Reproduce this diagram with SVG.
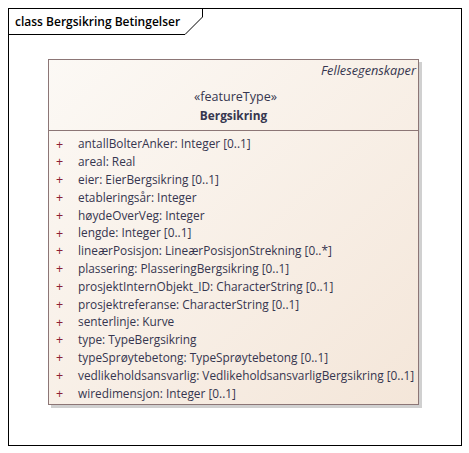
<svg xmlns="http://www.w3.org/2000/svg" width="469" height="453" viewBox="0 0 469 453">
<style>
.t{font-family:"Open Sans","Noto Sans",sans-serif;font-size:11.85px;fill:#36364f}
.p{font-family:"Open Sans","Noto Sans",sans-serif;font-size:12.5px;fill:#8b2036}
.frame{fill:none;stroke:#000;stroke-width:1}
</style>
<defs>
<linearGradient id="g" x1="0" y1="0" x2="1" y2="1">
<stop offset="0" stop-color="#fcf9f5"/>
<stop offset="1" stop-color="#f4e6d9"/>
</linearGradient>
</defs>
<rect x="0" y="0" width="469" height="453" fill="#fff"/>
<g id="frame">
<rect class="frame" x="8.5" y="8.5" width="453" height="437"/>
<path class="frame" d="M8.5,34.5 H185 L202.5,17 V8.5"/>
<text x="15" y="26" style="font-family:'Open Sans','Noto Sans',sans-serif;font-size:12px;font-weight:600;fill:#000">class Bergsikring Betingelser</text>
</g>
<g id="Bergsikring">
<rect x="51" y="62" width="371" height="346" fill="#b0b0b0" opacity="0.6"/>
<rect x="48.5" y="59.5" width="370" height="345" fill="url(#g)" stroke="#8c7676" stroke-width="1"/>
<line x1="48.5" y1="130.5" x2="418.5" y2="130.5" stroke="#8c7676"/>
<text class="t" x="321" y="75" font-style="italic" textLength="95" lengthAdjust="spacingAndGlyphs">Fellesegenskaper</text>
<text class="t" x="194" y="101" textLength="83" lengthAdjust="spacingAndGlyphs">«featureType»</text>
<text class="t" x="233.5" y="120" text-anchor="middle" font-weight="bold">Bergsikring</text>
<g class="p">
<text x="56" y="148.5">+</text>
<text x="56" y="166.3">+</text>
<text x="56" y="184.1">+</text>
<text x="56" y="201.9">+</text>
<text x="56" y="219.7">+</text>
<text x="56" y="237.5">+</text>
<text x="56" y="255.3">+</text>
<text x="56" y="273.1">+</text>
<text x="56" y="290.9">+</text>
<text x="56" y="308.7">+</text>
<text x="56" y="326.5">+</text>
<text x="56" y="344.3">+</text>
<text x="56" y="362.1">+</text>
<text x="56" y="379.9">+</text>
<text x="56" y="397.7">+</text>
</g>
<g class="t">
<text x="78" y="148.3">antallBolterAnker: Integer [0..1]</text>
<text x="78" y="166.1">areal: Real</text>
<text x="78" y="183.9">eier: EierBergsikring [0..1]</text>
<text x="78" y="201.7">etableringsår: Integer</text>
<text x="78" y="219.5">høydeOverVeg: Integer</text>
<text x="78" y="237.3">lengde: Integer [0..1]</text>
<text x="78" y="255.1">lineærPosisjon: LineærPosisjonStrekning [0..*]</text>
<text x="78" y="272.9">plassering: PlasseringBergsikring [0..1]</text>
<text x="78" y="290.7">prosjektInternObjekt_ID: CharacterString [0..1]</text>
<text x="78" y="308.5">prosjektreferanse: CharacterString [0..1]</text>
<text x="78" y="326.3">senterlinje: Kurve</text>
<text x="78" y="344.1">type: TypeBergsikring</text>
<text x="78" y="361.9">typeSprøytebetong: TypeSprøytebetong [0..1]</text>
<text x="78" y="379.7">vedlikeholdsansvarlig: VedlikeholdsansvarligBergsikring [0..1]</text>
<text x="78" y="397.5">wiredimensjon: Integer [0..1]</text>
</g>
</g>
</svg>
